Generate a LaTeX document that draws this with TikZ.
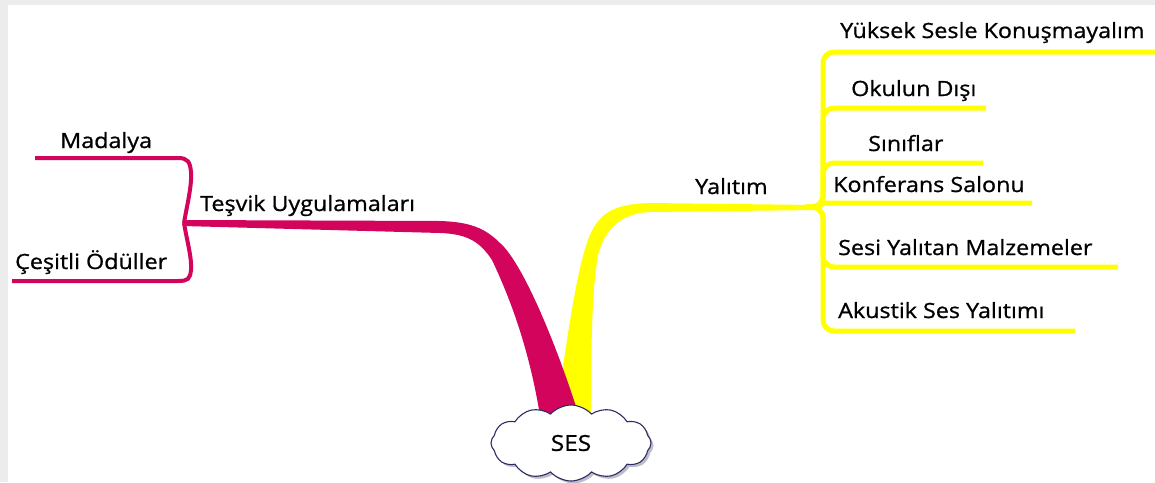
\documentclass[tikz,border=0pt]{standalone}
\usepackage{fontspec}
\setmainfont{Open Sans}[FakeBold=0.9, FakeStretch=1.11]
\usetikzlibrary{shapes.symbols,shadows}
\definecolor{branchred}{RGB}{210,4,92}
\definecolor{branchyellow}{RGB}{255,255,0}
\definecolor{cloudline}{RGB}{45,45,95}
\definecolor{framegray}{RGB}{236,236,236}
\begin{document}
\begin{tikzpicture}[x=1pt,y=-1pt,
  leaf/.style={font=\fontsize{21}{24}\selectfont, inner sep=0pt, anchor=base west},
  redtwig/.style={draw=branchred, line width=4pt},
  yellowtwig/.style={draw=branchyellow, line width=5pt, rounded corners=11pt},
  cloudbox/.style={cloud, cloud puffs=12, cloud puff arc=95, aspect=2.2,
    draw=cloudline, line width=1.1pt, fill=white, inner sep=0pt,
    minimum width=160pt, minimum height=76pt,
    font=\fontsize{22}{26}\selectfont,
    drop shadow={shadow xshift=2.5pt, shadow yshift=-2.5pt, fill=cloudline!45, opacity=0.7}},
 ]
\useasboundingbox (0,0) rectangle (1155,482);
\fill[white] (0,0) rectangle (1155,482);
\fill[framegray] (0,0) rectangle (1155,5);
\fill[framegray] (0,0) rectangle (8,482);

% main branch to the right (yellow), drawn first so the red one lies over it
\fill[branchyellow] (555,422) .. controls (568,330) and (578,262) .. (590,235)
  .. controls (600,212) and (615,204) .. (650,203) -- (815,205) -- (815,210)
  -- (650,212) .. controls (625,213) and (606,225) .. (598,255)
  .. controls (592,290) and (591,340) .. (591,422) -- cycle;

% main branch to the left (red)
\fill[branchred] (581,422) .. controls (556,342) and (522,262) .. (500,243)
  .. controls (485,228) and (470,222) .. (440,221) -- (183,220) -- (183,226)
  -- (440,233) .. controls (468,234) and (480,242) .. (492,260)
  .. controls (510,298) and (530,350) .. (541,422) -- cycle;

% centre topic, over the roots of both branches
\node[cloudbox] (ses) at (571,443) {SES};

% branch labels
\node[leaf] (tesvik) at (200,211) {Teşvik Uygulamaları};
\node[leaf] (yalitim) at (695,194) {Yalıtım};

% sub-branches on the left
\coordinate (lfork) at (184,223);
\coordinate (madEnd) at (35,158);
\coordinate (odulEnd) at (12,281);
\draw[redtwig] (lfork) .. controls (187,205) and (192,186) .. (191,172)
  .. controls (190,162) and (188,158) .. (178,158) -- (madEnd);
\draw[redtwig] (lfork) .. controls (187,241) and (192,258) .. (191,270)
  .. controls (190,279) and (188,281) .. (178,281) -- (odulEnd);
\node[leaf] (madalya) at (60,148) {Madalya};
\node[leaf] (oduller) at (15,269) {Çeşitli Ödüller};

% sub-branches on the right
\coordinate (rfork) at (805,207);
\coordinate (yuksekEnd) at (1160,52);
\coordinate (okulEnd) at (986,108);
\coordinate (sinifEnd) at (983,163);
\coordinate (konfEnd) at (1032,203);
\coordinate (sesiEnd) at (1118,267);
\coordinate (akusEnd) at (1075,331);
\draw[yellowtwig] (rfork) -- (823,207) -- (823,52) -- (yuksekEnd);
\draw[yellowtwig] (rfork) -- (823,207) -- (823,108) -- (okulEnd);
\draw[yellowtwig] (rfork) -- (823,207) -- (823,163) -- (sinifEnd);
\draw[yellowtwig, rounded corners=3pt] (rfork) -- (818,207) -- (823,203) -- (konfEnd);
\draw[yellowtwig] (rfork) -- (823,207) -- (823,267) -- (sesiEnd);
\draw[yellowtwig] (rfork) -- (823,207) -- (823,331) -- (akusEnd);

\node[leaf] (yuksek) at (840,38) {Yüksek Sesle Konuşmayalım};
\node[leaf] (okul) at (851,96) {Okulun Dışı};
\node[leaf] (sinif) at (868,151) {Sınıflar};
\node[leaf] (konf) at (833,192) {Konferans Salonu};
\node[leaf] (sesi) at (838,255) {Sesi Yalıtan Malzemeler};
\node[leaf] (akus) at (838,318) {Akustik Ses Yalıtımı};
\end{tikzpicture}
\end{document}
